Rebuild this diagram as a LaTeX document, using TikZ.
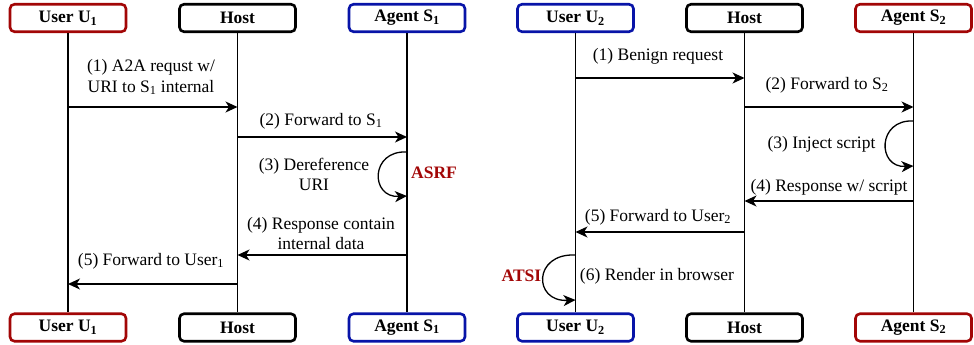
\documentclass[tikz,border=0pt]{standalone}
\usepackage{fontspec}
\setmainfont{Liberation Serif}
\usetikzlibrary{arrows.meta}
\definecolor{dred}{HTML}{A20606}
\definecolor{dblue}{HTML}{0814A8}
\tikzset{
  actor/.style={draw, line width=2.6pt, rounded corners=4.5pt, minimum width=116pt, minimum height=27.5pt, inner sep=0pt, font=\fontsize{17.5}{20}\selectfont\bfseries, fill=white},
  redbox/.style={actor, draw=dred},
  bluebox/.style={actor, draw=dblue},
  blackbox/.style={actor, draw=black},
  life/.style={line width=1.2pt},
  msg/.style={line width=1.3pt, -{Stealth[length=12pt,width=11pt,inset=3.5pt]}},
  lbl/.style={font=\fontsize{17.5}{20.5}\selectfont, align=center, inner sep=0pt},
  tag/.style={font=\fontsize{17.5}{20}\selectfont\bfseries, text=dred, inner sep=0pt},
}
\begin{document}
\begin{tikzpicture}[x=1pt,y=-1pt]
\useasboundingbox (0,0) rectangle (974,345);
% top boxes
\node[redbox] (u1t) at (68,18) {User U\textsubscript{1}};
\node[blackbox] (h1t) at (237.5,18) {Host};
\node[bluebox] (s1t) at (407,18) {Agent S\textsubscript{1}};
\node[bluebox] (u2t) at (575.5,18) {User U\textsubscript{2}};
\node[blackbox] (h2t) at (744.5,18) {Host};
\node[redbox] (s2t) at (913.5,18) {Agent S\textsubscript{2}};
% bottom boxes
\node[redbox] (u1b) at (68,327.5) {User U\textsubscript{1}};
\node[blackbox] (h1b) at (237.5,327.5) {Host};
\node[bluebox] (s1b) at (407,327.5) {Agent S\textsubscript{1}};
\node[bluebox] (u2b) at (575.5,327.5) {User U\textsubscript{2}};
\node[blackbox] (h2b) at (744.5,327.5) {Host};
\node[redbox] (s2b) at (913.5,327.5) {Agent S\textsubscript{2}};
% lifelines
\foreach \a in {u1,h1,s1,u2,h2,s2} {\draw[life] (\a t.south) -- (\a b.north);}
% left diagram
\draw[msg] (u1t.south |- 0,107) -- (h1t.south |- 0,107);
\node[lbl] (l1) at (151,77) {(1) A2A requst w/\\URI to S\textsubscript{1} internal};
\draw[msg] (h1t.south |- 0,137) -- (s1t.south |- 0,137);
\node[lbl] (l2) at (321,121) {(2) Forward to S\textsubscript{1}};
\coordinate (s1a) at (s1t.south |- 0,152);
\coordinate (s1c) at (s1t.south |- 0,196);
\draw[msg] (s1a) .. controls (370,150) and (370,198) .. (s1c);
\node[lbl] (l3) at (314,174.5) {(3) Dereference\\URI};
\node[tag] (asrf) at (434,173) {ASRF};
\draw[msg] (s1t.south |- 0,255) -- (h1t.south |- 0,255);
\node[lbl] (l4) at (321,233.5) {(4) Response contain\\internal data};
\draw[msg] (h1t.south |- 0,284) -- (u1t.south |- 0,284);
\node[lbl] (l5) at (151,261) {(5) Forward to User\textsubscript{1}};
% right diagram
\draw[msg] (u2t.south |- 0,78) -- (h2t.south |- 0,78);
\node[lbl] (r1) at (658,56) {(1) Benign request};
\draw[msg] (h2t.south |- 0,107) -- (s2t.south |- 0,107);
\node[lbl] (r2) at (827,85) {(2) Forward to S\textsubscript{2}};
\coordinate (s2a) at (s2t.south |- 0,121);
\coordinate (s2c) at (s2t.south |- 0,166);
\draw[msg] (s2a) .. controls (877,119) and (877,168) .. (s2c);
\node[lbl] (r3) at (821.5,144) {(3) Inject script};
\draw[msg] (s2t.south |- 0,201) -- (h2t.south |- 0,201);
\node[lbl] (r4) at (829,187) {(4) Response w/ script};
\draw[msg] (h2t.south |- 0,232) -- (u2t.south |- 0,232);
\node[lbl] (r5) at (658,217) {(5) Forward to User\textsubscript{2}};
\coordinate (u2a) at (u2t.south |- 0,255);
\coordinate (u2c) at (u2t.south |- 0,300);
\draw[msg] (u2a) .. controls (533,253) and (533,302) .. (u2c);
\node[lbl] (r6) at (657,276) {(6) Render in browser};
\node[tag] (atsi) at (521.5,276) {ATSI};
\end{tikzpicture}
\end{document}
